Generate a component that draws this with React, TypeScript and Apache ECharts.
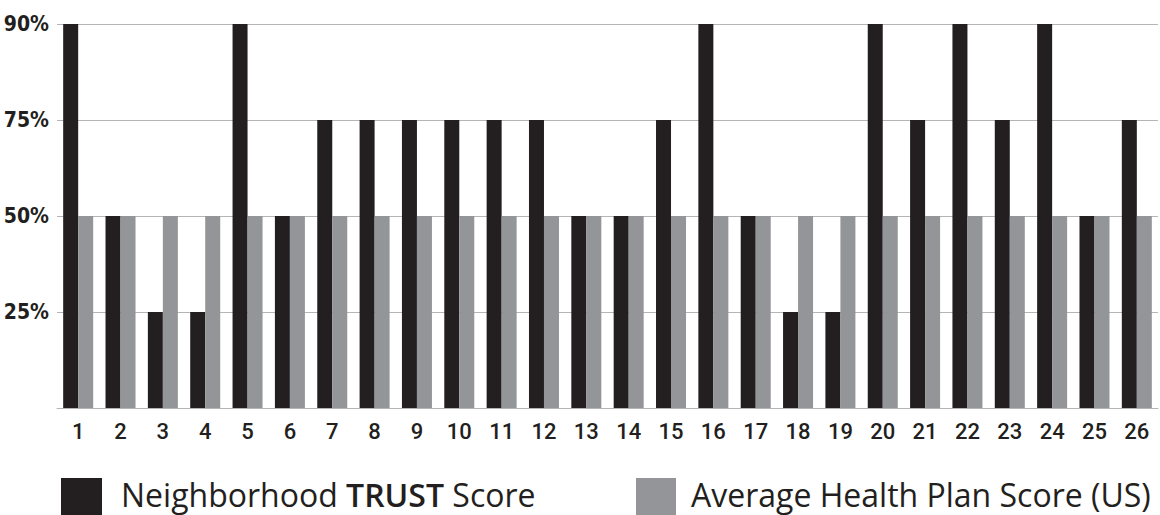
import React, { useEffect, useRef } from "react";
import * as echarts from "echarts";

const categories = Array.from({ length: 26 }, (_, i) => String(i + 1));
const scoreLevels = [0, 25, 50, 75, 90];
const levelLabels = ["", "25%", "50%", "75%", "90%"];
const trustScores = [90, 50, 25, 25, 90, 50, 75, 75, 75, 75, 75, 75, 50, 50, 75, 90, 50, 25, 25, 90, 75, 90, 75, 90, 50, 75];
const avgScores = [50, 50, 50, 50, 50, 50, 50, 50, 50, 50, 50, 50, 50, 50, 50, 50, 50, 50, 50, 50, 50, 50, 50, 50, 50, 50];
const seriesNames = ["Neighborhood TRUST Score", "Average Health Plan Score (US)"];
const seriesColors = ["#231f20", "#939598"];

const toLevel = (v: number) => scoreLevels.indexOf(v);

export default function App() {
  const ref = useRef<HTMLDivElement>(null);
  useEffect(() => {
    if (!ref.current) return;
    const chart = echarts.init(ref.current, null, { renderer: "svg" });
    const legendFont = { fontFamily: "Open Sans", fontSize: 32, fill: "#231f20" };
    chart.setOption({
      animation: false,
      grid: { left: 57, right: 2, top: 24, bottom: 107, containLabel: false },
      graphic: [
        { type: "rect", left: 61, top: 478, shape: { width: 41, height: 40 }, style: { fill: seriesColors[0] } },
        {
          type: "text",
          x: 121,
          y: 494,
          style: {
            ...legendFont,
            lineHeight: 32,
            verticalAlign: "middle",
            text: "{n|Neighborhood }{b|TRUST}{n| Score}",
            rich: {
              n: { fontFamily: "Open Sans", fontSize: 32, lineHeight: 32, fill: "#231f20" },
              b: { fontFamily: "Open Sans", fontSize: 32, lineHeight: 32, fontWeight: 600, fill: "#231f20" },
            },
          },
        },
        { type: "rect", left: 636, top: 478, shape: { width: 40, height: 40 }, style: { fill: seriesColors[1] } },
        {
          type: "text",
          x: 691,
          y: 494,
          style: { ...legendFont, verticalAlign: "middle", text: seriesNames[1] },
        },
      ],
      xAxis: {
        type: "category",
        data: categories,
        axisTick: { show: false },
        axisLine: { lineStyle: { color: "#b5b5b5", width: 1 } },
        axisLabel: {
          margin: 12,
          fontFamily: "Roboto",
          fontSize: 22,
          fontWeight: 500,
          color: "#231f20",
        },
      },
      yAxis: {
        type: "value",
        min: 0,
        max: 4,
        interval: 1,
        axisLine: { show: false },
        axisTick: { show: false },
        splitLine: { lineStyle: { color: "#b5b5b5", width: 1 } },
        axisLabel: {
          margin: 8,
          fontFamily: "DejaVu Sans Condensed",
          fontWeight: "bold",
          fontSize: 21,
          color: "#231f20",
          formatter: (v: number) => levelLabels[Math.round(v)] ?? "",
        },
      },
      series: [
        {
          name: seriesNames[0],
          type: "bar",
          data: trustScores.map(toLevel),
          barWidth: 15,
          barGap: "0%",
          itemStyle: { color: seriesColors[0] },
        },
        {
          name: seriesNames[1],
          type: "bar",
          data: avgScores.map(toLevel),
          barWidth: 15,
          barGap: "0%",
          itemStyle: { color: seriesColors[1] },
        },
      ],
    });
    return () => chart.dispose();
  }, []);
  return <div ref={ref} style={{ width: 1160, height: 515, position: "absolute", left: 0, top: 0 }} />;
}
